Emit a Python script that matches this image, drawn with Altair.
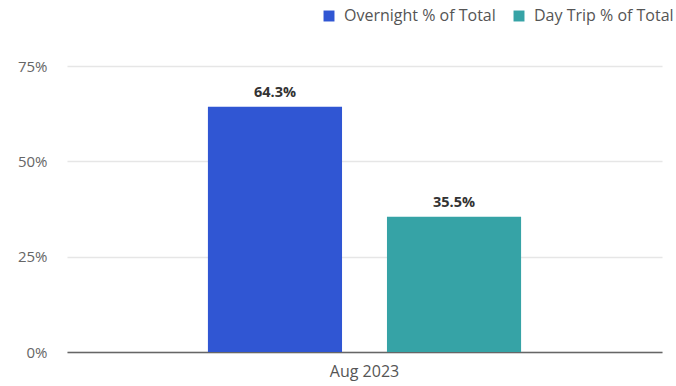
import altair as alt
import pandas as pd

periods = ["Aug 2023", "Aug 2023"]
series = ["Overnight % of Total", "Day Trip % of Total"]
values = [0.643, 0.355]
colors = ["#3056D3", "#36A3A6"]

df = pd.DataFrame({"period": periods, "series": series, "value": values})

FONT = "Open Sans"

base = alt.Chart(df).encode(
    x=alt.X("period:N", title=None,
            scale=alt.Scale(paddingInner=0, paddingOuter=0.45),
            axis=alt.Axis(labelAngle=0, ticks=False, domain=True, domainColor="#666666",
                          domainWidth=1.5, labelFont=FONT, labelFontSize=16,
                          labelColor="#555555", labelPadding=11)),
    xOffset=alt.XOffset("series:N", sort=series,
                        scale=alt.Scale(paddingInner=0.251, paddingOuter=0)),
)

bars = base.mark_bar().encode(
    y=alt.Y("value:Q", title=None,
            scale=alt.Scale(domain=[0, 0.75], nice=False),
            axis=alt.Axis(values=[0, 0.25, 0.5, 0.75], format=".0%", ticks=False,
                          domain=False, grid=True, gridColor="#e6e6e6", gridWidth=1.5,
                          labelFont=FONT, labelFontSize=15, labelColor="#666666",
                          labelPadding=20)),
    color=alt.Color("series:N", sort=series,
                    scale=alt.Scale(domain=series, range=colors),
                    legend=alt.Legend(title=None, orient="none", direction="horizontal",
                                      legendX=254, legendY=-58, symbolType="square",
                                      symbolSize=120, symbolStrokeWidth=0,
                                      labelFont=FONT, labelFontSize=16,
                                      labelColor="#555555", columnPadding=15,
                                      symbolOffset=0, labelOffset=7)),
)

labels = base.mark_text(dy=-14, fontWeight="bold", fontSize=14.5, font=FONT,
                        color="#333333").encode(
    y=alt.Y("value:Q"),
    text=alt.Text("value:Q", format=".1%"),
)

chart = (bars + labels).properties(
    width=595, height=286,
    autosize=alt.AutoSizeParams(type="none"),
    padding={"left": 67, "top": 66, "right": 14, "bottom": 34},
).configure_view(stroke=None)

chart.save("out.html", embed_options={"renderer": "svg", "actions": False})
